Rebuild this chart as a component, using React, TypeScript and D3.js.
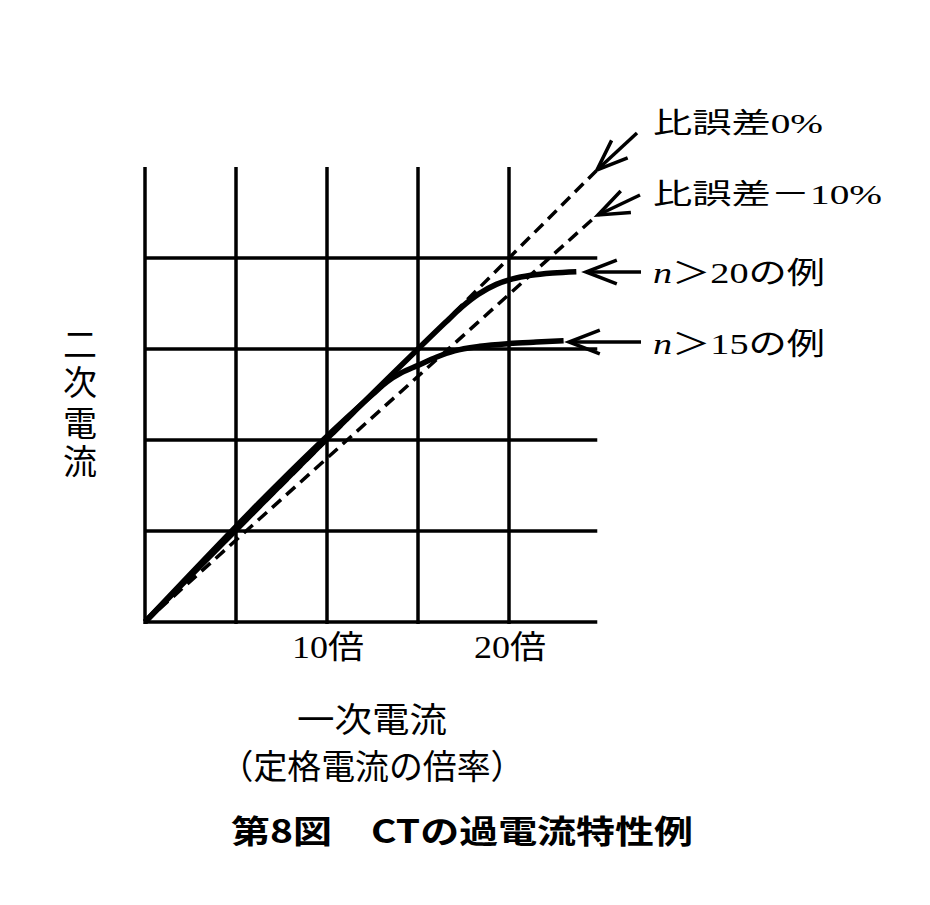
import React from "react";
import * as d3 from "d3";

// Grid divisions (multiples of rated current)
const gridXValues = [0, 5, 10, 15, 20];
const gridYValues = [0, 5, 10, 15, 20];
const xTickValues = [10, 20];
const xTickLabels = ["10倍", "20倍"];

// Ratio-error reference lines: secondary = ratio × primary
const errorRatios = [1.0, 0.9];
const errorLineEnd = 24.8;

// Overcurrent characteristic, n > 20
const curve20X = [0, 15, 16.5, 17.4, 18.3, 19.3, 20.2, 21.2, 22.4, 23.7];
const curve20Y = [0, 15, 16.45, 17.3, 18.0, 18.55, 18.85, 19.05, 19.18, 19.25];

// Overcurrent characteristic, n > 15
const curve15X = [0, 12.5, 13.3, 14.1, 15, 16, 17, 18.4, 20, 21.5, 23];
const curve15Y = [0, 12.5, 13.2, 13.7, 14.1, 14.55, 14.9, 15.15, 15.3, 15.38, 15.45];

const W = 930;
const H = 905;

const x = d3.scaleLinear().domain([0, 25]).range([145, 600]);
const y = d3.scaleLinear().domain([0, 25]).range([622, 167]);

const lineGen = d3
  .line<[number, number]>()
  .x((d) => x(d[0]))
  .y((d) => y(d[1]))
  .curve(d3.curveMonotoneX);

const zip = (xs: number[], ys: number[]): [number, number][] =>
  xs.map((v, i) => [v, ys[i]]);

const SERIF = "'Liberation Serif', 'Noto Sans CJK JP', serif";
const GOTHIC = "'Noto Sans CJK JP', sans-serif";

// Open V-shaped arrowhead pointing at (tx, ty), shaft coming from (sx, sy)
function Arrow({ sx, sy, tx, ty }: { sx: number; sy: number; tx: number; ty: number }) {
  const ang = Math.atan2(sy - ty, sx - tx);
  const len = 33;
  const spread = (21 * Math.PI) / 180;
  const w1: [number, number] = [tx + len * Math.cos(ang + spread), ty + len * Math.sin(ang + spread)];
  const w2: [number, number] = [tx + len * Math.cos(ang - spread), ty + len * Math.sin(ang - spread)];
  return (
    <g stroke="#000" strokeWidth={3.5} fill="none" strokeLinecap="butt">
      <line x1={sx} y1={sy} x2={tx} y2={ty} />
      <polyline points={`${w1[0]},${w1[1]} ${tx},${ty} ${w2[0]},${w2[1]}`} strokeLinejoin="miter" />
    </g>
  );
}

const yAxisChars = ["二", "次", "電", "流"];
const yAxisCharY = [345, 383, 424, 462];

export default function App() {
  const p20 = lineGen(zip(curve20X, curve20Y)) || "";
  const p15 = lineGen(zip(curve15X, curve15Y)) || "";

  return (
    <div style={{ position: "absolute", left: 0, top: 0 }}>
      <svg width={W} height={H} viewBox={`0 0 ${W} ${H}`} style={{ display: "block", background: "#fff" }}>
        <rect width={W} height={H} fill="#fff" />

        {/* grid */}
        <g stroke="#000" strokeWidth={3.5}>
          {gridXValues.map((v) => (
            <line key={`gx${v}`} x1={x(v)} x2={x(v)} y1={y(25)} y2={y(0) + 2} />
          ))}
          {gridYValues.map((v) => (
            <line key={`gy${v}`} x1={x(0)} x2={x(24.85)} y1={y(v)} y2={y(v)} />
          ))}
        </g>

        {/* ratio-error reference lines */}
        <g stroke="#000" strokeWidth={3.5} strokeDasharray="12 7" fill="none">
          {errorRatios.map((r) => (
            <line key={`e${r}`} x1={x(0)} y1={y(0)} x2={x(errorLineEnd)} y2={y(errorLineEnd * r)} />
          ))}
        </g>

        {/* characteristics */}
        <path d={p20} stroke="#000" strokeWidth={5.5} fill="none" />
        <path d={p15} stroke="#000" strokeWidth={5.5} fill="none" />

        {/* callout arrows */}
        <Arrow sx={637} sy={133} tx={597} ty={170} />
        <Arrow sx={640} sy={195} tx={598} ty={215} />
        <Arrow sx={641} sy={272} tx={586} ty={272} />
        <Arrow sx={641} sy={342} tx={569} ty={342} />

        {/* callout labels */}
        <g fontFamily={SERIF} fill="#000" dominantBaseline="central">
          <text x={653} y={123} fontSize={28} textLength={170} lengthAdjust="spacingAndGlyphs">
            比誤差0%
          </text>
          <text x={653} y={194} fontSize={28} textLength={229} lengthAdjust="spacingAndGlyphs">
            比誤差－10%
          </text>
          <text x={653} y={272} fontSize={30} textLength={172} lengthAdjust="spacingAndGlyphs">
            <tspan fontStyle="italic">n</tspan>＞20の例
          </text>
          <text x={653} y={343} fontSize={30} textLength={172} lengthAdjust="spacingAndGlyphs">
            <tspan fontStyle="italic">n</tspan>＞15の例
          </text>
        </g>

        {/* x tick labels */}
        <g fontFamily={SERIF} fill="#000" dominantBaseline="central" textAnchor="middle">
          {xTickValues.map((v, i) => (
            <text key={`t${v}`} x={x(v) + 1} y={647} fontSize={32} textLength={72} lengthAdjust="spacingAndGlyphs">
              {xTickLabels[i]}
            </text>
          ))}
        </g>

        {/* axis titles */}
        <g fontFamily={SERIF} fill="#000" dominantBaseline="central" textAnchor="middle">
          {yAxisChars.map((c, i) => (
            <text key={`ya${i}`} x={80} y={yAxisCharY[i]} fontSize={34}>
              {c}
            </text>
          ))}
          <text x={372} y={720} fontSize={34} textLength={150} lengthAdjust="spacingAndGlyphs">
            一次電流
          </text>
          <text x={372} y={767} fontSize={34} textLength={305} lengthAdjust="spacingAndGlyphs">
            （定格電流の倍率）
          </text>
        </g>

        {/* figure caption */}
        <text
          x={462}
          y={829}
          fontFamily={GOTHIC}
          fontWeight={700}
          fontSize={32}
          textAnchor="middle"
          dominantBaseline="central"
          textLength={462}
          lengthAdjust="spacingAndGlyphs"
        >
          第8図　CTの過電流特性例
        </text>
      </svg>
    </div>
  );
}
